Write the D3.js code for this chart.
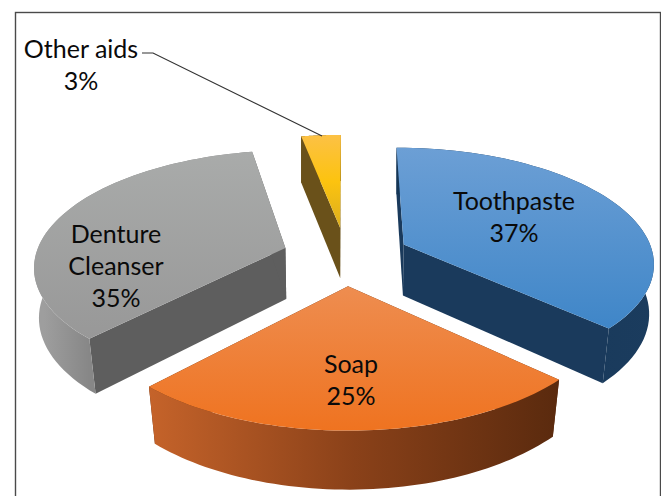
<!DOCTYPE html>
<html>
<head>
<meta charset="utf-8">
<style>
  html, body { margin: 0; padding: 0; background: #fff; }
  svg { display: block; }
  text { font-family: Lato, "Open Sans", sans-serif; fill: #0a0a0a; }
</style>
<script src="https://cdn.jsdelivr.net/npm/d3@7/dist/d3.min.js"></script>
</head>
<body>
<svg id="chart" width="661" height="496"></svg>
<script>
// Share of denture hygiene products, clockwise from twelve o'clock
const categories = ["Toothpaste", "Soap", "Denture Cleanser", "Other aids"];
const shares = [37, 25, 35, 3];

// Per-slice palette: top face gradient, straight walls, rim gradient
const topShades = [["#6c9fd5", "#3f86c8"], ["#ee8d50", "#ef7320"], ["#a9abaa", "#989898"], ["#fcc145", "#fcc30f", "#dbae1f"]];
const wallShades = ["#1a3a5c", "#5a2a0e", "#5e5e5e", "#6a511a"];
const rimShades = [["#143555", "#1b3c5e"], ["#c5632a", "#8a4119", "#5a2a0e"], ["#9e9e9e", "#878787"], ["#6a511a", "#6a511a"]];

// Label lines and where each block is centred
const labelLines = [["Toothpaste"], ["Soap"], ["Denture", "Cleanser"], ["Other aids"]];
const labelCentre = [[514, 210], [351, 373], [116, 243], [81, 58]];
const lineGap = 32;

const svg = d3.select("#chart");

// Perspective of the tilted disc
const cx = 346, cy = 256, scaleX = 250, scaleY = 114, persp = 0.144, explode = 0.255;
const project = (u, f) => {
  const s = 1 / (1 - persp * f);
  return [cx + scaleX * u * s, cy + scaleY * f * s];
};
// Point directly below a top-surface point, on the underside of the disc
const drop = ([x, y]) => [
  cx + (x - cx) * (1 - 0.00012 * (y - 135)),
  y + 51 + 0.044 * (y - 248)
];

const arcs = d3.pie().sort(null).value(d => d)(shares);
const defs = svg.append("defs");
const path = d3.line();

// Frame
svg.append("rect").attr("x", 15.5).attr("y", 12.5).attr("width", 645).attr("height", 490)
  .attr("fill", "#fff").attr("stroke", "#4a4a4a").attr("stroke-width", 1.4);

function gradient(id, stops, horizontal, extent) {
  const g = defs.append("linearGradient").attr("id", id).attr("gradientUnits", "userSpaceOnUse");
  if (horizontal) g.attr("x1", extent[0]).attr("x2", extent[1]).attr("y1", 0).attr("y2", 0);
  else g.attr("x1", 0).attr("x2", 0).attr("y1", extent[0]).attr("y2", extent[1]);
  stops.forEach((c, i) => g.append("stop").attr("offset", i / (stops.length - 1)).attr("stop-color", c));
  return `url(#${id})`;
}

// Back slices first so the front ones overlap correctly
const drawOrder = [3, 2, 0, 1];
drawOrder.forEach(i => {
  const a = arcs[i];
  const mid = (a.startAngle + a.endAngle) / 2;
  const ou = explode * Math.sin(mid), of = -explode * Math.cos(mid);
  const at = t => project(ou + Math.sin(t), of - Math.cos(t));

  const steps = d3.range(0, 61).map(k => a.startAngle + (a.endAngle - a.startAngle) * k / 60);
  const rim = steps.map(at);
  const apex = project(ou, of);
  const rimBelow = rim.map(drop);
  const apexBelow = drop(apex);

  const g = svg.append("g").attr("class", "slice");

  // Straight walls, then the curved rim, then the top face over everything
  [[rim[0], rimBelow[0]], [rim[60], rimBelow[60]]].forEach(([p, q]) => {
    g.append("path").attr("d", path([p, apex, apexBelow, q]) + "Z").attr("fill", wallShades[i]);
  });
  const rimWall = rim.concat(rimBelow.slice().reverse());
  const xs = d3.extent(rimWall, p => p[0]);
  g.append("path").attr("d", path(rimWall) + "Z")
    .attr("fill", gradient(`rim${i}`, rimShades[i], true, i === 2 ? [xs[0] + 10, xs[0] + 55] : xs));

  const face = [apex].concat(rim);
  g.append("path").attr("d", path(face) + "Z")
    .attr("fill", gradient(`top${i}`, topShades[i], false, d3.extent(face, p => p[1])));
});

// Labels: name lines then the percentage
categories.forEach((name, i) => {
  const [x, y] = labelCentre[i];
  const lines = labelLines[i].concat(`${shares[i]}%`);
  const t = svg.append("text").attr("text-anchor", "middle").attr("font-size", 25);
  lines.forEach((line, n) => t.append("tspan").attr("x", x).attr("y", y + n * lineGap).text(line));
});

// Leader from the small slice's label to its back edge
svg.append("path")
  .attr("d", path([[142, 53], [153, 53], [322, 136]]))
  .attr("fill", "none").attr("stroke", "#333").attr("stroke-width", 1.2);
</script>
</body>
</html>
